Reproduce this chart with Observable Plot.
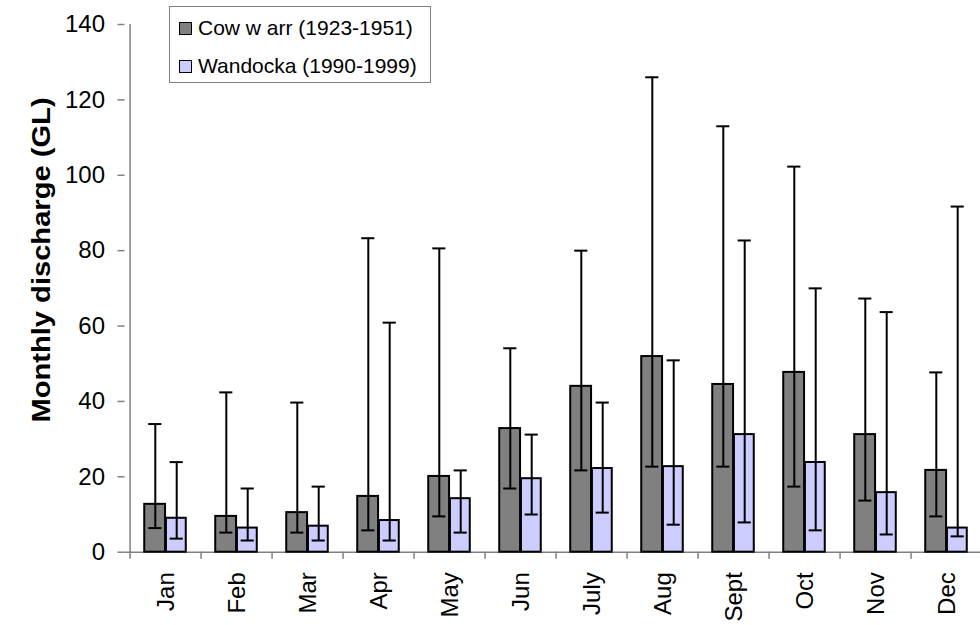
<!DOCTYPE html>
<html>
<head>
<meta charset="utf-8">
<script src="https://cdn.jsdelivr.net/npm/d3@7"></script>
<script src="https://cdn.jsdelivr.net/npm/@observablehq/plot@0.6"></script>
<style>
  html, body { margin: 0; padding: 0; background: #fff; overflow: hidden; }
  #wrap { position: relative; width: 980px; height: 625px; overflow: hidden; font-family: "Liberation Sans", Arial, sans-serif; }
  #wrap svg { overflow: hidden; display: block; }
  #ytitle { position: absolute; left: 41px; top: 260px; transform: translate(-50%, -50%) rotate(-90deg) scaleX(1.12);
    font-weight: bold; font-size: 26px; white-space: nowrap; color: #000; }
  #legend { position: absolute; left: 169px; top: 6px; width: 260px; height: 75px; border: 1.5px solid #808080; background: #fff; }
  .item { position: absolute; left: 9px; height: 24px; display: flex; align-items: center; font-size: 21px; color: #000; white-space: pre; }
  .sw { width: 11px; height: 11px; border: 1.5px solid #000; margin-right: 6px; }
</style>
</head>
<body>
<div id="wrap"></div>
<script>
const months = ["Jan","Feb","Mar","Apr","May","Jun","July","Aug","Sept","Oct","Nov","Dec"];
const seriesNames = ["Cow w arr (1923-1951)", "Wandocka (1990-1999)"];
const yTitle = "Monthly discharge (GL)";
const cowwarr     = [12.7, 9.5, 10.5, 14.8, 20.1, 32.8, 44.0, 51.9, 44.5, 47.7, 31.2, 21.7];
const cowwarrLow  = [6.4, 5.2, 5.2, 5.8, 9.5, 16.9, 21.7, 22.7, 22.7, 17.4, 13.7, 9.5];
const cowwarrHigh = [34.0, 42.4, 39.7, 83.3, 80.6, 54.1, 80.0, 126.0, 113.0, 102.3, 67.3, 47.7];
const wandocka     = [9.0, 6.4, 6.9, 8.4, 14.2, 19.5, 22.2, 22.7, 31.2, 23.8, 15.8, 6.4];
const wandockaLow  = [3.6, 3.1, 3.1, 3.1, 5.2, 10.0, 10.5, 7.3, 7.9, 5.8, 4.7, 4.2];
const wandockaHigh = [23.9, 16.9, 17.4, 60.9, 21.7, 31.2, 39.7, 50.9, 82.7, 70.0, 63.7, 91.7];
const yTicks = [0, 20, 40, 60, 80, 100, 120, 140];

const colors = ["#808080", "#ccccff"];

const cw = months.map((m, i) => ({month: m, v: cowwarr[i], lo: cowwarrLow[i], hi: cowwarrHigh[i]}));
const wd = months.map((m, i) => ({month: m, v: wandocka[i], lo: wandockaLow[i], hi: wandockaHigh[i]}));

// the plot area runs slightly past the 980px edge (clipped), as in the reference
const W = 980, H = 625;
const mL = 124.5, mT = 24, mB = 73.3;
const xEnd = 987;
const band = (xEnd - mL) / months.length;
const half = band / 2;
const barW = 21.7;
const off = 10.7;
const capInset = half - 7;

const chart = Plot.plot({
  width: W,
  height: H,
  marginLeft: mL,
  marginRight: 0,
  marginTop: mT,
  marginBottom: mB,
  style: {background: "transparent", fontFamily: "'Liberation Sans', Arial, sans-serif", color: "#000", maxWidth: "none"},
  x: {domain: months, padding: 0, range: [mL, xEnd]},
  y: {domain: [0, 140]},
  marks: [
    // category boundary ticks + y axis line
    Plot.ruleX(months, {x: d => d, dx: -half, y1: -1.9, y2: d => d === months[0] ? 140 : 0, stroke: "#808080", strokeWidth: 1.5}),
    Plot.ruleY([0], {stroke: "#808080", strokeWidth: 1.5}),
    Plot.axisY({ticks: yTicks, tickSize: 7, tickPadding: 13, fontSize: 24, stroke: "#808080", strokeWidth: 1.5, label: null}),
    Plot.axisX({tickSize: 0, tickRotate: -90, tickPadding: 20, fontSize: 24, label: null}),
    Plot.barY(cw, {x: "month", y: "v", fill: colors[0], stroke: "#000", strokeWidth: 2,
      insetLeft: half - barW, insetRight: half}),
    Plot.barY(wd, {x: "month", y: "v", fill: colors[1], stroke: "#000", strokeWidth: 2,
      insetLeft: half, insetRight: half - barW + 1}),
    Plot.ruleX(cw, {x: "month", y1: "lo", y2: "hi", dx: -off, stroke: "#000", strokeWidth: 2}),
    Plot.ruleX(wd, {x: "month", y1: "lo", y2: "hi", dx: off, stroke: "#000", strokeWidth: 2}),
    Plot.tickY(cw, {x: "month", y: "hi", dx: -off, insetLeft: capInset, insetRight: capInset, stroke: "#000", strokeWidth: 2}),
    Plot.tickY(cw, {x: "month", y: "lo", dx: -off, insetLeft: capInset, insetRight: capInset, stroke: "#000", strokeWidth: 2}),
    Plot.tickY(wd, {x: "month", y: "hi", dx: off, insetLeft: capInset, insetRight: capInset, stroke: "#000", strokeWidth: 2}),
    Plot.tickY(wd, {x: "month", y: "lo", dx: off, insetLeft: capInset, insetRight: capInset, stroke: "#000", strokeWidth: 2})
  ]
});

const wrap = document.getElementById("wrap");
wrap.appendChild(chart);

const yt = document.createElement("div");
yt.id = "ytitle";
yt.textContent = yTitle;
wrap.appendChild(yt);

const legend = document.createElement("div");
legend.id = "legend";
seriesNames.forEach((name, i) => {
  const item = document.createElement("div");
  item.className = "item";
  item.style.top = (i === 0 ? 9 : 47) + "px";
  const sw = document.createElement("span");
  sw.className = "sw";
  sw.style.background = colors[i];
  const t = document.createElement("span");
  t.textContent = name;
  item.appendChild(sw);
  item.appendChild(t);
  legend.appendChild(item);
});
wrap.appendChild(legend);
</script>
</body>
</html>
